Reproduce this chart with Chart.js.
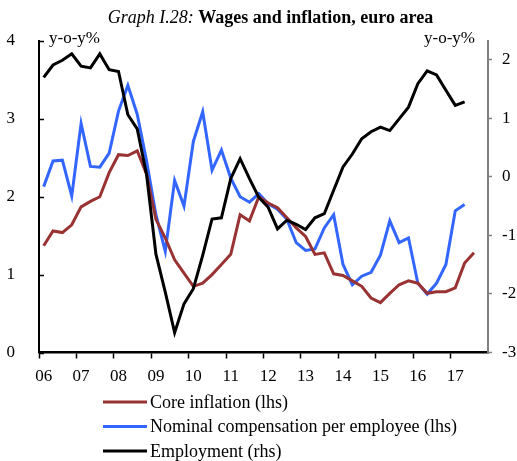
<!DOCTYPE html>
<html>
<head>
<meta charset="utf-8">
<script src="https://cdn.jsdelivr.net/npm/chart.js@4.4.1/dist/chart.umd.min.js"></script>
<style>
  html, body { margin: 0; padding: 0; background: #fff; }
  #wrap { width: 517px; height: 461px; }
</style>
</head>
<body>
<div id="wrap"><canvas id="chart" width="517" height="461"></canvas></div>
<script>
// Years on the x axis (one label per Q1), quarterly data from 06Q1
const years = ['06', '07', '08', '09', '10', '11', '12', '13', '14', '15', '16', '17'];
const leftTicks = [0, 1, 2, 3, 4];
const rightTicks = [-3, -2, -1, 0, 1, 2];

// Core inflation (lhs), y-o-y %
const coreInflation = [
  1.37, 1.56, 1.54, 1.64, 1.87, 1.94, 2.00, 2.31, 2.54, 2.53, 2.59, 2.29,
  1.71, 1.47, 1.19, 1.02, 0.85, 0.89, 1.00, 1.13, 1.26, 1.77, 1.69, 2.00,
  1.92, 1.86, 1.73, 1.60, 1.49, 1.26, 1.28, 1.01, 0.99, 0.92, 0.85, 0.70,
  0.64, 0.76, 0.87, 0.92, 0.89, 0.76, 0.78, 0.78, 0.83, 1.15, 1.28
];

// Nominal compensation per employee (lhs), y-o-y %
const compensation = [
  2.13, 2.46, 2.47, 2.01, 2.94, 2.39, 2.38, 2.56, 3.10, 3.43, 3.06, 2.46,
  1.77, 1.30, 2.21, 1.88, 2.71, 3.09, 2.34, 2.60, 2.24, 2.00, 1.93, 2.04,
  1.91, 1.84, 1.71, 1.41, 1.31, 1.33, 1.60, 1.77, 1.13, 0.87, 0.98, 1.03,
  1.25, 1.69, 1.41, 1.47, 0.89, 0.75, 0.89, 1.13, 1.82, 1.90
];

// Employment (rhs), y-o-y %
const employment = [
  1.70, 1.91, 1.99, 2.10, 1.89, 1.86, 2.10, 1.83, 1.80, 1.06, 0.82, 0.04,
  -1.32, -1.97, -2.66, -2.17, -1.91, -1.34, -0.72, -0.70, -0.03, 0.31, -0.03, -0.35,
  -0.52, -0.89, -0.74, -0.81, -0.90, -0.70, -0.63, -0.23, 0.17, 0.39, 0.65, 0.77,
  0.85, 0.79, 0.99, 1.19, 1.59, 1.81, 1.74, 1.48, 1.22, 1.28
];

const serif = '"Liberation Serif", "Times New Roman", serif';

// quarterly categories built from the years
const quarters = [];
years.forEach(y => {
  for (let q = 1; q <= 4; q++) quarters.push(y + 'Q' + q);
});

const legendItems = [
  { label: 'Core inflation (lhs)', color: '#993333' },
  { label: 'Nominal compensation per employee (lhs)', color: '#3366ff' },
  { label: 'Employment (rhs)', color: '#000000' }
];

// Title, unit labels, inward left ticks and the stacked legend
const decorations = {
  id: 'decorations',
  afterDraw(chart) {
    const ctx = chart.ctx;
    const area = chart.chartArea;
    ctx.save();

    // title: italic part + bold part
    const part1 = 'Graph I.28: ';
    const part2 = 'Wages and inflation, euro area';
    ctx.fillStyle = '#000';
    ctx.textBaseline = 'alphabetic';
    ctx.font = 'italic 18px ' + serif;
    const w1 = ctx.measureText(part1).width;
    ctx.font = 'bold 18px ' + serif;
    const w2 = ctx.measureText(part2).width;
    let x = 270.5 - (w1 + w2) / 2;
    ctx.font = 'italic 18px ' + serif;
    ctx.textAlign = 'left';
    ctx.fillText(part1, x, 22.5);
    ctx.font = 'bold 18px ' + serif;
    ctx.fillText(part2, x + w1, 22.5);

    // unit labels
    ctx.font = '17px ' + serif;
    ctx.textAlign = 'left';
    ctx.fillText('y-o-y%', area.left + 10, 43);
    ctx.textAlign = 'right';
    ctx.fillText('y-o-y%', area.right - 13, 43);

    // inward ticks on left axis
    const yl = chart.scales.y;
    ctx.strokeStyle = '#000';
    ctx.lineWidth = 1.5;
    leftTicks.forEach(v => {
      const py = Math.round(yl.getPixelForValue(v)) + 0.5;
      ctx.beginPath();
      ctx.moveTo(area.left, py);
      ctx.lineTo(area.left + 5, py);
      ctx.stroke();
    });

    // legend
    ctx.font = '18px ' + serif;
    ctx.textAlign = 'left';
    ctx.textBaseline = 'middle';
    legendItems.forEach((item, i) => {
      const ly = 402 + i * 24.5;
      ctx.strokeStyle = item.color;
      ctx.lineWidth = 3;
      ctx.beginPath();
      ctx.moveTo(103, ly);
      ctx.lineTo(147, ly);
      ctx.stroke();
      ctx.fillStyle = '#000';
      ctx.fillText(item.label, 150, ly + 1);
    });

    ctx.restore();
  }
};

const ctx = document.getElementById('chart').getContext('2d');

new Chart(ctx, {
  type: 'line',
  data: {
    labels: quarters,
    datasets: [{
      label: 'Core inflation (lhs)',
      data: coreInflation,
      borderColor: '#993333',
      borderWidth: 3,
      yAxisID: 'y',
      order: 1
    }, {
      label: 'Nominal compensation per employee (lhs)',
      data: compensation,
      borderColor: '#3366ff',
      borderWidth: 3,
      yAxisID: 'y',
      order: 2
    }, {
      label: 'Employment (rhs)',
      data: employment,
      borderColor: '#000000',
      borderWidth: 3,
      yAxisID: 'y1',
      order: 0
    }]
  },
  options: {
    responsive: false,
    animation: false,
    devicePixelRatio: 1,
    elements: {
      point: { radius: 0 },
      line: { tension: 0, borderJoinStyle: 'miter' }
    },
    layout: { padding: { top: 41, left: 0, right: 0, bottom: 0 } },
    plugins: {
      legend: { display: false },
      title: { display: false },
      tooltip: { enabled: false }
    },
    scales: {
      x: {
        type: 'category',
        offset: true,
        afterFit: (scale) => { scale.height = 108.5; },
        grid: {
          drawOnChartArea: false,
          offset: true,
          tickLength: 6,
          tickWidth: 1.5,
          tickColor: (c) => (c.index % 4 === 0 ? '#000' : 'rgba(0,0,0,0)')
        },
        border: { display: true, color: '#000', width: 2.5 },
        ticks: {
          autoSkip: false,
          maxRotation: 0,
          minRotation: 0,
          padding: 8,
          color: '#000',
          font: { family: serif, size: 17 },
          callback: (val, i) => (i % 4 === 0 ? years[i / 4] : '')
        }
      },
      y: {
        position: 'left',
        min: 0,
        max: 4,
        afterFit: (scale) => { scale.width = 39; },
        afterBuildTicks: (scale) => { scale.ticks = leftTicks.map(v => ({ value: v })); },
        grid: { display: false },
        border: { display: true, color: '#000', width: 2 },
        ticks: {
          padding: 16,
          color: '#000',
          font: { family: serif, size: 17 }
        }
      },
      y1: {
        position: 'right',
        min: -3,
        max: 2.32,
        afterFit: (scale) => { scale.width = 29; },
        afterBuildTicks: (scale) => { scale.ticks = rightTicks.map(v => ({ value: v })); },
        grid: {
          drawOnChartArea: false,
          tickLength: 4,
          tickWidth: 1.5,
          tickColor: '#808080'
        },
        border: { display: true, color: '#808080', width: 2 },
        ticks: {
          padding: 10,
          color: '#000',
          font: { family: serif, size: 17 }
        }
      }
    }
  },
  plugins: [decorations]
});
</script>
</body>
</html>
